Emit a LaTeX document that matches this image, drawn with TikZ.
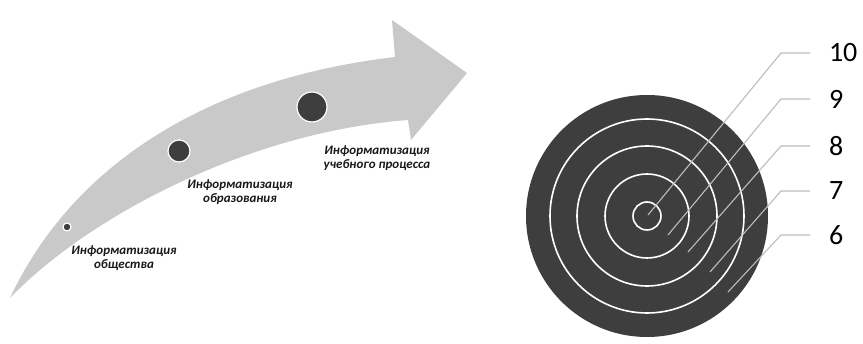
\documentclass[tikz,border=0pt]{standalone}
\usepackage{fontspec}
\setmainfont{Carlito}
\usetikzlibrary{positioning}

\definecolor{arrowgray}{HTML}{C9C9C9}
\definecolor{darkgray}{HTML}{3E3E3E}
\definecolor{leadgray}{HTML}{BDBDBD}

\begin{document}
\begin{tikzpicture}[
  x=1pt, y=-1pt,
  dot/.style={circle, fill=darkgray, draw=white, line width=1.2pt, inner sep=0pt},
  stage/.style={align=center, font=\fontsize{13}{14}\selectfont\bfseries\itshape, text=black!90},
  ring/.style={draw=white, line width=1.6pt},
  lead/.style={draw=leadgray, line width=1.1pt},
  num/.style={anchor=west, inner xsep=0pt, outer xsep=19pt, inner ysep=0pt, font=\fontsize{28}{28}\selectfont},
]
  \fill[white] (0,0) rectangle (863,344);
  \useasboundingbox (0,0) rectangle (863,344);

  % curved arrow
  \fill[arrowgray] (10,298) .. controls (70,170) and (200,80) .. (395,57)
    -- (392,20) -- (467,73) -- (411,140) -- (408,120)
    .. controls (250,132) and (90,215) .. (10,298) -- cycle;

  \node[dot, minimum size=8pt] (d1) at (67,227) {};
  \node[dot, minimum size=22pt] (d2) at (179,151) {};
  \node[dot, minimum size=30pt] (d3) at (312,107) {};

  \node[stage] (obsh) at (124,258) {Информатизация\\общества};
  \node[stage] (obraz) at (240,192) {Информатизация\\образования};
  \node[stage] (ucheb) at (377,158) {Информатизация\\учебного процесса};

  % target
  \coordinate (c) at (647,216);
  \fill[darkgray] (c) circle[radius=121pt];
  \foreach \r in {14,42,70,97}
    \draw[ring] (c) circle[radius=\r pt];

  % leaders and scores
  \foreach \n/\y/\ex/\ey in {10/53/648/215, 9/99/668/235, 8/146/688/252, 7/191/710/272, 6/235/728/292} {
    \node[num] (n\n) at (810,\y) {\n};
    \coordinate (k\n) at (781,\y);
    \coordinate (e\n) at (\ex,\ey);
    \draw[lead] (e\n) -- (k\n) -- (n\n.west);
  }
\end{tikzpicture}
\end{document}
